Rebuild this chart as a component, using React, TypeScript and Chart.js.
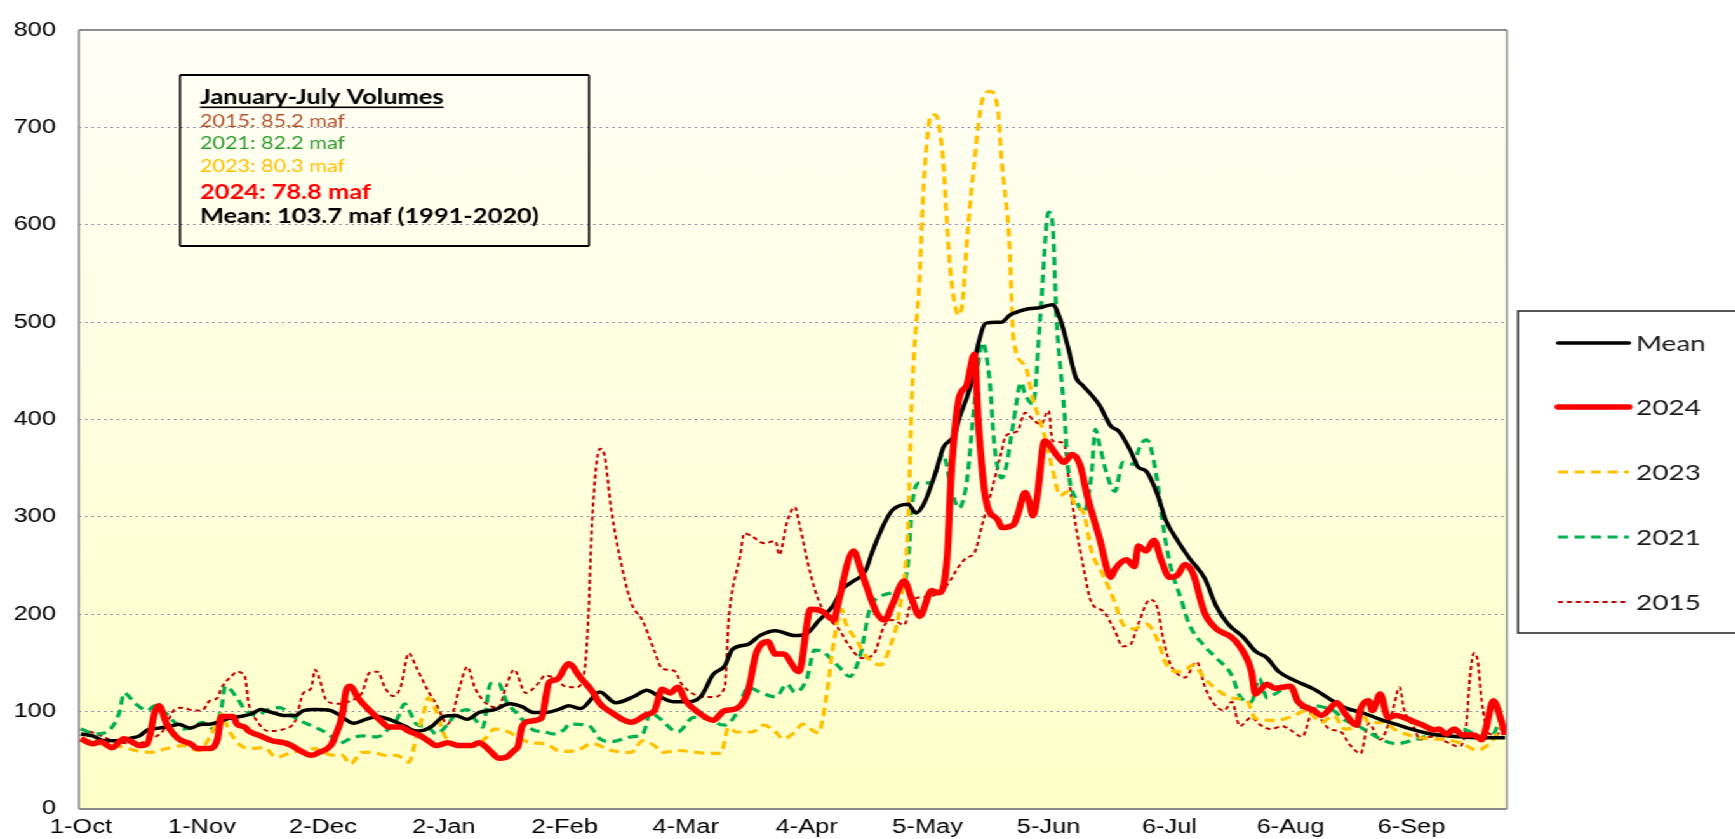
import React, { useEffect, useRef } from "react";
import { Chart, registerables } from "chart.js";

Chart.register(...registerables);

// ---------- data ----------
const xTickDays = [0, 31, 62, 93, 124, 155, 186, 217, 248, 279, 310, 341];
const xTickLabels = ["1-Oct", "1-Nov", "2-Dec", "2-Jan", "2-Feb", "4-Mar", "4-Apr", "5-May", "5-Jun", "6-Jul", "6-Aug", "6-Sep"];
const yMin = 0;
const yMax = 800;
const yStep = 100;

const meanDays = [0, 3, 6, 10, 12, 15, 17, 20, 23, 25, 28, 31, 33, 35, 38, 41, 44, 46, 49, 52, 55, 57, 60, 64, 66, 70, 73, 76, 79, 83, 86, 88, 90, 93, 96, 99, 102, 106, 110, 113, 116, 119, 123, 125, 128, 133, 137, 142, 145, 148, 152, 155, 159, 162, 165, 167, 171, 174, 178, 183, 186, 189, 193, 195, 198, 201, 203, 206, 208, 212, 214, 216, 219, 221, 224, 225, 228, 230, 232, 236, 238, 242, 246, 249, 251, 253, 255, 257, 261, 264, 266, 269, 271, 273, 276, 278, 281, 284, 288, 291, 294, 298, 301, 304, 307, 311, 316, 320, 324, 329, 333, 337, 341, 346, 350, 354, 359, 365];
const meanValues = [77, 75, 70, 70, 72, 75, 81, 83, 85, 87, 83, 87, 87, 89, 93, 95, 98, 102, 99, 96, 96, 101, 102, 101, 97, 88, 92, 95, 92, 85, 80, 81, 85, 95, 96, 92, 99, 102, 108, 105, 99, 99, 103, 106, 103, 120, 109, 116, 122, 116, 110, 110, 116, 138, 147, 164, 169, 178, 183, 178, 180, 193, 210, 225, 234, 244, 266, 294, 307, 313, 304, 313, 345, 371, 385, 400, 435, 478, 499, 500, 507, 513, 515, 518, 503, 474, 443, 434, 415, 393, 388, 368, 351, 347, 322, 297, 276, 258, 237, 208, 190, 176, 162, 155, 141, 132, 123, 113, 104, 98, 92, 87, 82, 77, 75, 74, 73, 73];

const days2024 = [0, 3, 5, 8, 11, 13, 15, 17, 19, 20, 22, 25, 28, 30, 33, 35, 36, 39, 40, 42, 43, 46, 49, 52, 54, 57, 59, 61, 64, 65, 67, 68, 69, 71, 74, 77, 79, 82, 84, 87, 89, 91, 94, 97, 100, 102, 104, 106, 107, 109, 111, 112, 113, 115, 118, 120, 122, 125, 128, 131, 133, 136, 141, 145, 147, 149, 151, 153, 155, 159, 162, 165, 168, 171, 173, 176, 178, 180, 184, 187, 190, 193, 194, 198, 200, 204, 206, 208, 211, 213, 215, 218, 220, 222, 223, 225, 227, 229, 230, 232, 235, 236, 239, 240, 242, 243, 244, 245, 247, 250, 252, 254, 256, 258, 261, 264, 265, 268, 270, 271, 273, 275, 277, 279, 281, 283, 285, 288, 291, 295, 297, 300, 301, 304, 306, 310, 312, 316, 318, 322, 324, 327, 328, 330, 331, 333, 335, 337, 339, 342, 344, 347, 348, 350, 352, 354, 357, 359, 360, 362, 364, 365];
const values2024 = [72, 67, 69, 63, 72, 69, 65, 67, 100, 106, 87, 72, 67, 62, 62, 72, 95, 95, 87, 84, 80, 75, 70, 68, 65, 58, 55, 58, 65, 73, 97, 122, 126, 114, 101, 90, 84, 84, 80, 75, 70, 65, 68, 65, 65, 68, 63, 55, 52, 53, 60, 64, 84, 90, 93, 130, 133, 149, 135, 121, 108, 99, 89, 97, 101, 123, 119, 125, 111, 97, 91, 101, 103, 121, 159, 172, 159, 159, 141, 205, 203, 194, 210, 265, 244, 201, 194, 210, 234, 215, 198, 224, 222, 258, 340, 421, 435, 467, 397, 316, 297, 289, 292, 301, 325, 316, 301, 318, 378, 364, 356, 364, 354, 320, 279, 238, 246, 256, 249, 270, 265, 276, 254, 238, 240, 251, 242, 201, 185, 176, 167, 141, 118, 128, 124, 126, 110, 101, 96, 109, 98, 86, 103, 111, 101, 118, 94, 96, 94, 89, 86, 81, 82, 77, 82, 76, 76, 71, 81, 111, 91, 76];

const days2023 = [0, 5, 9, 14, 18, 22, 26, 30, 32, 35, 36, 38, 41, 43, 47, 50, 54, 57, 60, 62, 65, 67, 69, 72, 75, 78, 81, 84, 86, 88, 89, 91, 93, 95, 98, 101, 104, 106, 109, 112, 115, 119, 123, 127, 131, 136, 141, 144, 147, 149, 153, 158, 161, 164, 166, 168, 172, 175, 178, 180, 183, 185, 187, 189, 191, 193, 195, 196, 199, 201, 205, 207, 210, 212, 213, 215, 216, 218, 219, 221, 222, 223, 225, 226, 227, 229, 231, 233, 235, 236, 238, 239, 242, 244, 247, 249, 251, 253, 255, 257, 259, 262, 265, 267, 270, 273, 276, 278, 281, 283, 285, 288, 291, 295, 299, 301, 305, 308, 311, 314, 318, 321, 324, 327, 328, 330, 334, 337, 342, 346, 350, 354, 358, 360, 362, 364, 365];
const values2023 = [72, 67, 65, 60, 58, 62, 65, 60, 67, 90, 97, 80, 65, 62, 63, 53, 58, 60, 62, 58, 55, 55, 46, 58, 58, 55, 55, 48, 74, 101, 114, 101, 77, 67, 65, 65, 74, 82, 80, 74, 68, 67, 59, 60, 67, 60, 58, 70, 65, 58, 60, 58, 57, 57, 84, 79, 79, 86, 79, 72, 79, 87, 82, 78, 114, 172, 205, 191, 172, 158, 148, 162, 210, 292, 426, 550, 641, 713, 713, 665, 598, 546, 507, 522, 579, 665, 728, 737, 718, 665, 579, 483, 455, 421, 383, 349, 322, 326, 311, 304, 265, 240, 212, 190, 185, 190, 173, 150, 141, 142, 148, 134, 123, 114, 110, 93, 91, 92, 96, 101, 89, 96, 82, 88, 104, 88, 89, 81, 74, 72, 71, 67, 60, 64, 71, 84, 81];

const days2021 = [0, 4, 7, 10, 11, 14, 17, 19, 21, 24, 26, 29, 31, 34, 36, 37, 40, 42, 45, 48, 51, 54, 57, 60, 64, 66, 69, 72, 76, 78, 81, 83, 84, 86, 89, 91, 94, 96, 99, 101, 103, 105, 107, 109, 112, 114, 116, 119, 121, 124, 125, 130, 133, 136, 141, 144, 146, 148, 153, 157, 160, 165, 168, 171, 174, 178, 181, 183, 186, 188, 190, 192, 195, 197, 200, 202, 206, 210, 212, 213, 215, 218, 219, 221, 223, 225, 227, 229, 231, 233, 234, 236, 237, 239, 241, 242, 244, 246, 248, 249, 250, 252, 253, 255, 257, 259, 260, 261, 263, 265, 267, 270, 271, 273, 274, 276, 277, 279, 282, 284, 288, 291, 295, 297, 300, 302, 304, 306, 310, 311, 313, 316, 319, 321, 324, 327, 330, 333, 337, 342, 346, 350, 354, 359, 362, 364, 365];
const values2021 = [82, 77, 80, 101, 119, 108, 101, 106, 101, 89, 82, 84, 89, 82, 104, 126, 114, 102, 96, 102, 104, 96, 89, 84, 75, 67, 72, 75, 74, 79, 92, 108, 102, 87, 84, 77, 87, 97, 102, 92, 84, 129, 129, 111, 97, 88, 81, 79, 77, 82, 87, 86, 72, 69, 74, 77, 99, 94, 79, 94, 93, 86, 98, 125, 120, 115, 128, 120, 133, 163, 162, 155, 143, 136, 162, 203, 220, 227, 253, 311, 335, 335, 345, 364, 330, 309, 335, 416, 479, 436, 378, 340, 349, 397, 438, 426, 416, 512, 613, 603, 507, 410, 350, 318, 305, 343, 390, 375, 343, 326, 356, 354, 368, 379, 374, 333, 301, 254, 215, 190, 167, 155, 137, 116, 110, 134, 114, 118, 126, 115, 104, 106, 104, 101, 91, 86, 79, 72, 67, 71, 76, 77, 82, 74, 77, 91, 81];

const days2015 = [0, 4, 9, 14, 18, 21, 24, 26, 29, 31, 33, 35, 36, 39, 40, 42, 43, 45, 48, 52, 55, 57, 59, 60, 61, 63, 66, 69, 72, 74, 76, 78, 80, 82, 84, 86, 89, 91, 94, 95, 97, 99, 101, 104, 107, 109, 111, 114, 117, 119, 122, 124, 127, 129, 130, 131, 133, 134, 136, 138, 141, 144, 147, 149, 152, 154, 157, 160, 162, 165, 166, 169, 170, 172, 175, 178, 179, 181, 183, 184, 187, 189, 191, 194, 197, 200, 203, 206, 208, 211, 213, 217, 219, 222, 225, 227, 229, 231, 233, 236, 237, 240, 242, 244, 246, 248, 249, 252, 253, 255, 257, 259, 262, 265, 267, 269, 271, 274, 276, 277, 279, 281, 283, 286, 288, 290, 293, 295, 297, 300, 302, 305, 308, 310, 313, 316, 318, 320, 323, 325, 328, 330, 333, 336, 338, 339, 342, 343, 346, 348, 351, 353, 355, 356, 357, 358, 359, 361, 363, 364, 365];
const values2015 = [82, 77, 69, 67, 72, 80, 102, 104, 101, 101, 111, 114, 124, 138, 141, 136, 108, 91, 80, 82, 91, 119, 124, 143, 135, 111, 108, 111, 119, 140, 141, 124, 116, 126, 160, 145, 121, 108, 87, 94, 124, 146, 124, 108, 104, 126, 143, 119, 128, 137, 133, 126, 125, 140, 193, 295, 370, 366, 305, 261, 212, 193, 162, 144, 142, 128, 118, 115, 115, 125, 193, 261, 283, 280, 273, 275, 261, 295, 310, 295, 241, 215, 198, 186, 167, 155, 158, 189, 194, 189, 215, 218, 220, 230, 249, 258, 263, 292, 321, 368, 383, 388, 407, 400, 395, 409, 378, 376, 345, 290, 247, 212, 203, 183, 167, 169, 190, 215, 205, 182, 151, 139, 135, 151, 126, 110, 101, 110, 85, 94, 87, 82, 85, 81, 74, 104, 91, 82, 79, 67, 57, 88, 71, 98, 125, 104, 81, 71, 74, 72, 67, 64, 84, 135, 160, 152, 111, 77, 76, 84, 81];

const noteTitle = "January-July Volumes";
const noteLines = ["2015: 85.2 maf", "2021: 82.2 maf", "2023: 80.3 maf", "2024: 78.8 maf", "Mean: 103.7 maf (1991-2020)"];
const noteColors = ["#B4532C", "#2E9A2E", "#FFC000", "#FF0000", "#000000"];
const noteBold = [false, false, false, true, true];

const legendOrder = ["Mean", "2024", "2023", "2021", "2015"];

// ---------- layout (canvas units; the canvas is stretched horizontally) ----------
const STRETCH = 1.27;
const W = 1366;
const H = 839;
const sx = (fullX: number) => fullX / STRETCH;

const pts = (d: number[], v: number[]) => d.map((x, i) => ({ x, y: v[i] }));

const decorPlugin = {
  id: "decor",
  beforeDraw(chart: any) {
    const { ctx, chartArea: a } = chart;
    ctx.save();
    const g = ctx.createLinearGradient(0, a.top, 0, a.bottom);
    g.addColorStop(0, "#FFFFF7");
    g.addColorStop(1, "#FFFFC8");
    ctx.fillStyle = g;
    ctx.fillRect(a.left, a.top, a.right - a.left, a.bottom - a.top);
    ctx.restore();
  },
  afterDatasetsDraw(chart: any) {
    const { ctx, chartArea: a } = chart;
    ctx.save();
    ctx.strokeStyle = "#8C8C8C";
    ctx.lineWidth = 2;
    ctx.beginPath();
    ctx.moveTo(a.left, a.top);
    ctx.lineTo(a.right, a.top);
    ctx.moveTo(a.left, a.bottom);
    ctx.lineTo(a.right, a.bottom);
    ctx.stroke();
    ctx.lineWidth = 2 / STRETCH;
    ctx.beginPath();
    ctx.moveTo(a.left, a.top);
    ctx.lineTo(a.left, a.bottom);
    ctx.moveTo(a.right, a.top);
    ctx.lineTo(a.right, a.bottom);
    ctx.stroke();
    ctx.restore();
  },
  afterDraw(chart: any) {
    const { ctx } = chart;
    ctx.save();
    // annotation box
    const bl = sx(180), br = sx(589), bt = 75, bb = 246;
    ctx.strokeStyle = "#000";
    ctx.lineWidth = 2;
    ctx.beginPath();
    ctx.moveTo(bl, bt); ctx.lineTo(br, bt);
    ctx.moveTo(bl, bb); ctx.lineTo(br, bb);
    ctx.stroke();
    ctx.lineWidth = 2 / STRETCH;
    ctx.beginPath();
    ctx.moveTo(bl, bt); ctx.lineTo(bl, bb);
    ctx.moveTo(br, bt); ctx.lineTo(br, bb);
    ctx.stroke();

    const tx = sx(200);
    ctx.textBaseline = "alphabetic";
    ctx.textAlign = "left";
    ctx.fillStyle = "#000";
    ctx.font = "bold 20px Lato";
    ctx.fillText(noteTitle, tx, 104);
    const tw = ctx.measureText(noteTitle).width;
    ctx.fillRect(tx, 106.5, tw, 1.6);
    const baselines = [127, 149, 172, 199, 223];
    noteLines.forEach((t, i) => {
      ctx.font = noteBold[i] ? "bold 20px Lato" : "17px Lato";
      ctx.fillStyle = noteColors[i];
      ctx.fillText(t, tx, baselines[i]);
    });

    // legend box
    const ll = sx(1518), lt = 311, lb = 633, lr = W + 5;
    ctx.strokeStyle = "#222";
    ctx.lineWidth = 1.5;
    ctx.strokeRect(ll, lt, lr - ll, lb - lt);
    const ys = [343, 407, 472, 537, 602];
    legendOrder.forEach((lab, i) => {
      const ds = chart.data.datasets.find((d: any) => d.label === lab);
      const y = ys[i];
      ctx.save();
      ctx.strokeStyle = ds.borderColor;
      ctx.lineWidth = ds.borderWidth;
      ctx.setLineDash(ds.borderDash || []);
      ctx.lineCap = lab === "Mean" || lab === "2024" ? "round" : "butt";
      ctx.beginPath();
      ctx.moveTo(sx(1558), y);
      ctx.lineTo(sx(1629), y);
      ctx.stroke();
      ctx.restore();
      ctx.font = "22px Lato";
      ctx.fillStyle = "#1A1A1A";
      ctx.textBaseline = "alphabetic";
      ctx.fillText(lab, sx(1636), y + 8);
    });
    ctx.restore();
  },
};

export default function App() {
  const ref = useRef<HTMLCanvasElement>(null);
  useEffect(() => {
    const canvas = ref.current;
    if (!canvas) return;
    const common = { pointRadius: 0, pointHoverRadius: 0, fill: false, cubicInterpolationMode: "monotone" as const, borderJoinStyle: "round" as const };
    const chart = new Chart(canvas, {
      type: "line",
      data: {
        datasets: [
          { label: "2024", data: pts(days2024, values2024), borderColor: "#FF0000", borderWidth: 5.5, ...common },
          { label: "Mean", data: pts(meanDays, meanValues), borderColor: "#000000", borderWidth: 3.5, ...common },
          { label: "2023", data: pts(days2023, values2023), borderColor: "#FFC000", borderWidth: 3.2, borderDash: [8, 5], ...common },
          { label: "2021", data: pts(days2021, values2021), borderColor: "#00B050", borderWidth: 3.2, borderDash: [8, 5], ...common },
          { label: "2015", data: pts(days2015, values2015), borderColor: "#C00000", borderWidth: 2, borderDash: [4, 3], ...common },
        ],
      },
      options: {
        responsive: false,
        animation: false,
        events: [],
        layout: { padding: { left: 0, top: 22, right: W - sx(1507), bottom: 0 } },
        plugins: { legend: { display: false }, tooltip: { enabled: false } },
        scales: {
          x: {
            type: "linear",
            min: -0.5,
            max: 365.5,
            afterBuildTicks: (scale: any) => {
              scale.ticks = xTickDays.map((v) => ({ value: v }));
            },
            afterFit: (scale: any) => {
              scale.height = 30;
            },
            ticks: {
              autoSkip: false,
              maxRotation: 0,
              padding: 7,
              color: "#000",
              font: { family: "Liberation Sans", size: 20 },
              callback: (_v: any, i: number) => xTickLabels[i],
            },
            grid: { display: false, drawTicks: false },
            border: { display: false },
          },
          y: {
            min: yMin,
            max: yMax,
            afterFit: (scale: any) => {
              scale.width = sx(79);
            },
            ticks: {
              stepSize: yStep,
              padding: sx(79) - sx(56),
              color: "#000",
              font: { family: "Liberation Sans", size: 20 },
            },
            grid: {
              drawTicks: false,
              lineWidth: 1,
              color: (c: any) => (c.tick && (c.tick.value === yMin || c.tick.value === yMax) ? "rgba(0,0,0,0)" : "#8E8EAE"),
            },
            border: { display: false, dash: [2, 3] },
          },
        },
      },
      plugins: [decorPlugin],
    });
    return () => chart.destroy();
  }, []);
  return (
    <div
      style={{
        position: "fixed",
        left: 0,
        top: 0,
        width: W + "px",
        height: H + "px",
        transform: `scaleX(${STRETCH})`,
        transformOrigin: "0 0",
        background: "#fff",
      }}
    >
      <canvas ref={ref} width={W} height={H} style={{ display: "block", width: W + "px", height: H + "px" }} />
    </div>
  );
}
